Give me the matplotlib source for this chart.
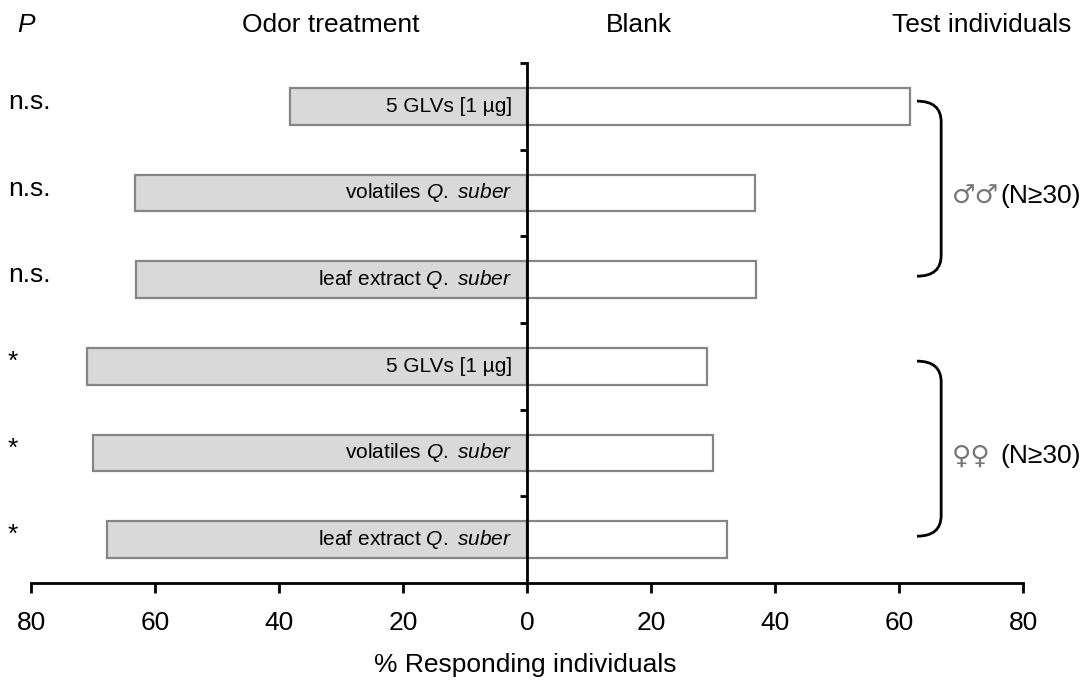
import matplotlib
matplotlib.use("Agg")
import matplotlib.pyplot as plt
from matplotlib.path import Path
from matplotlib.patches import PathPatch
from matplotlib.transforms import blended_transform_factory

plt.rcParams['font.family'] = ['Liberation Sans', 'DejaVu Sans']
plt.rcParams['mathtext.fontset'] = 'custom'
plt.rcParams['mathtext.rm'] = 'Liberation Sans'
plt.rcParams['mathtext.it'] = 'Liberation Sans:italic'

# data
labels = ["5 GLVs [1 µg]", r"volatiles $\it{Q.\ suber}$", r"leaf extract $\it{Q.\ suber}$",
          "5 GLVs [1 µg]", r"volatiles $\it{Q.\ suber}$", r"leaf extract $\it{Q.\ suber}$"]
odor = [38.3, 63.3, 63.0, 71.0, 70.0, 67.8]
blank = [61.7, 36.7, 37.0, 29.0, 30.0, 32.2]
signif = ["n.s.", "n.s.", "n.s.", "*", "*", "*"]
groups = [("♂♂", "(N≥30)", 0, 2), ("♀♀", "(N≥30)", 3, 5)]
xticks = [-80, -60, -40, -20, 0, 20, 40, 60, 80]

FS = 19

fig = plt.figure(figsize=(10.89, 6.89), dpi=100)
ax = fig.add_axes([31 / 1089, 1 - 583 / 689, 992 / 1089, 520 / 689])

y = list(range(len(labels)))
ax.barh(y, [-v for v in odor], height=0.42, color="#d9d9d9", edgecolor="#858585", linewidth=1.6, zorder=2)
ax.barh(y, blank, height=0.42, color="white", edgecolor="#858585", linewidth=1.6, zorder=2)

left_tr = blended_transform_factory(fig.transFigure, ax.transData)
for i, lab in enumerate(labels):
    ax.text(-2.4, i, lab, ha="right", va="center", fontsize=15, zorder=3)
    ax.text(8 / 1089, i + 0.03, signif[i], ha="left", va="baseline", fontsize=FS, transform=left_tr)

ax.set_xlim(-80, 80)
ax.set_ylim(len(labels) - 0.5, -0.5)

ax.spines["top"].set_visible(False)
ax.spines["right"].set_visible(False)
ax.spines["left"].set_position(("data", 0))
ax.spines["left"].set_linewidth(2.0)
ax.spines["left"].set_zorder(4)
ax.spines["bottom"].set_linewidth(2.0)

ax.set_yticks([k - 0.5 for k in range(len(labels))])
ax.set_yticklabels([])
ax.tick_params(axis="y", direction="out", length=5, width=2.0)
ax.set_xticks(xticks)
ax.set_xticklabels([str(abs(t)) for t in xticks], fontsize=FS)
ax.tick_params(axis="x", direction="out", length=7, width=2.0, pad=13)

# braces
for sym, txt, a, b in groups:
    top = a - 0.06
    bot = b - 0.04
    x0, x1 = 62.9, 66.8
    r = 0.24
    verts = [(x0, top), (x1, top), (x1, top + r), (x1, bot - r), (x1, bot), (x0, bot)]
    codes = [Path.MOVETO, Path.CURVE3, Path.CURVE3, Path.LINETO, Path.CURVE3, Path.CURVE3]
    ax.add_patch(PathPatch(Path(verts, codes), fill=False, lw=2.0, ec="black", clip_on=False))
    ym = (a + b) / 2 + 0.04
    ax.text(68.5, ym, sym, ha="left", va="center", fontsize=FS, color="#777777",
            family="DejaVu Sans", clip_on=False)
    ax.text(76.4, ym, txt, ha="left", va="center", fontsize=FS, clip_on=False)

# headers
hy = 1 - 32 / 689
fig.text(17 / 1089, hy, "P", style="italic", fontsize=FS, ha="left", va="baseline")
fig.text(331 / 1089, hy, "Odor treatment", fontsize=FS, ha="center", va="baseline")
fig.text(639 / 1089, hy, "Blank", fontsize=FS, ha="center", va="baseline")
fig.text(1071 / 1089, hy, "Test individuals", fontsize=FS, ha="right", va="baseline")
fig.text(525 / 1089, 1 - 672 / 689, "% Responding individuals", fontsize=FS, ha="center", va="baseline")

plt.savefig("out.png", dpi=100)
